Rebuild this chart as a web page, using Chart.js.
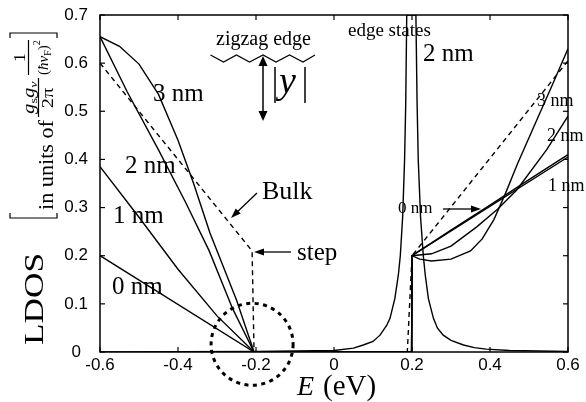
<!DOCTYPE html>
<html>
<head>
<meta charset="utf-8">
<script src="https://cdn.jsdelivr.net/npm/chart.js@4.4.1/dist/chart.umd.min.js"></script>
<style>
  html, body { margin: 0; padding: 0; background: #fff; }
  canvas { display: block; }
</style>
</head>
<body>
<canvas id="ldosChart" width="586" height="402"></canvas>
<script>
'use strict';

// ── Data ──────────────────────────────────────────────────────────────────────
const xTickLabels = ['-0.6', '-0.4', '-0.2', '0', '0.2', '0.4', '0.6'];
const yTickLabels = ['0', '0.1', '0.2', '0.3', '0.4', '0.5', '0.6', '0.7'];

// bulk (dashed)
const energyBulk = [-0.6, -0.21, -0.205, 0.188, 0.2, 0.6];
const ldosBulk   = [0.6, 0.21, 0, 0, 0.2, 0.605];

// 0 nm from the edge
const energy0nm = [-0.6, -0.205, 0.199, 0.2, 0.6];
const ldos0nm   = [0.2, 0, 0, 0.2, 0.405];

// 1 nm
const energy1nm = [-0.6, -0.5, -0.4, -0.3, -0.205, 0.199, 0.2, 0.3, 0.4, 0.5, 0.6];
const ldos1nm   = [0.385, 0.28, 0.172, 0.075, 0, 0, 0.2, 0.253, 0.305, 0.358, 0.41];

// 2 nm
const energy2nm = [-0.6, -0.53, -0.45, -0.38, -0.32, -0.26, -0.205, 0.199, 0.2, 0.25, 0.3, 0.366, 0.42, 0.468, 0.545, 0.6];
const ldos2nm   = [0.655, 0.54, 0.42, 0.31, 0.21, 0.09, 0, 0, 0.2, 0.204, 0.22, 0.26, 0.297, 0.336, 0.42, 0.49];

// 3 nm
const energy3nm = [-0.6, -0.55, -0.5, -0.45, -0.4, -0.36, -0.318, -0.25, -0.205, 0.199, 0.2, 0.22, 0.25, 0.3, 0.35, 0.38, 0.41, 0.44, 0.47, 0.52, 0.56, 0.6];
const ldos3nm   = [0.655, 0.635, 0.598, 0.535, 0.44, 0.35, 0.247, 0.108, 0, 0, 0.2, 0.193, 0.189, 0.193, 0.21, 0.235, 0.275, 0.33, 0.39, 0.482, 0.555, 0.63];

// edge-state peak (runs off the top of the frame)
const energyEdge = [-0.6, -0.2, 0, 0.05, 0.075, 0.1, 0.118, 0.135, 0.1436, 0.156, 0.165, 0.17, 0.176, 0.181, 0.184, 0.1865,
                    0.21, 0.213, 0.216, 0.222, 0.229, 0.234, 0.242, 0.255, 0.265, 0.28, 0.3, 0.332, 0.36, 0.39, 0.45, 0.6];
const ldosEdge   = [0, 0.001, 0.003, 0.008, 0.0145, 0.022, 0.035, 0.055, 0.07, 0.111, 0.16, 0.2, 0.28, 0.4, 0.52, 0.7,
                    0.7, 0.52, 0.4, 0.28, 0.2, 0.16, 0.111, 0.07, 0.05, 0.035, 0.024, 0.0145, 0.009, 0.006, 0.003, 0.001];

// ── Helpers ───────────────────────────────────────────────────────────────────
const SERIF = "'Liberation Serif', 'Times New Roman', serif";
const SANS  = "'Liberation Sans', Arial, sans-serif";

const zip = (xs, ys) => xs.map((x, i) => ({ x, y: ys[i] }));

function curve(xs, ys, dashed) {
  return {
    data: zip(xs, ys),
    borderColor: '#000',
    borderWidth: 1.4,
    borderDash: dashed ? [5, 4] : [],
    pointRadius: 0,
    tension: 0,
    fill: false
  };
}

// vertical (rotated) text: bx = baseline x on screen, py = anchor y
function vText(ctx, text, bx, py, font, align, sx) {
  ctx.save();
  ctx.translate(bx, py);
  ctx.rotate(-Math.PI / 2);
  ctx.scale(sx || 1, 1);
  ctx.font = font;
  ctx.textAlign = align || 'center';
  ctx.textBaseline = 'alphabetic';
  ctx.fillText(text, 0, 0);
  ctx.restore();
}

// rotated text stretched to run from pyBottom up to pyTop
function vFit(ctx, text, bx, pyBottom, pyTop, font) {
  ctx.font = font;
  const w = ctx.measureText(text).width;
  vText(ctx, text, bx, pyBottom, font, 'left', (pyBottom - pyTop) / w);
}

// run of rotated pieces going upward from pyStart
function vRun(ctx, parts, pyStart, sx) {
  let py = pyStart;
  parts.forEach(p => {
    ctx.font = p.font;
    const w = ctx.measureText(p.t).width * (sx || 1);
    vText(ctx, p.t, p.bx, py, p.font, 'left', sx);
    py -= w;
  });
}

function text(ctx, str, x, y, font) {
  ctx.font = font;
  ctx.textAlign = 'left';
  ctx.textBaseline = 'alphabetic';
  ctx.fillText(str, x, y);
}

function line(ctx, pts) {
  ctx.beginPath();
  ctx.moveTo(pts[0][0], pts[0][1]);
  for (let i = 1; i < pts.length; i++) ctx.lineTo(pts[i][0], pts[i][1]);
  ctx.stroke();
}

function arrow(ctx, x1, y1, x2, y2, len, hw) {
  const ang = Math.atan2(y2 - y1, x2 - x1);
  const c = Math.cos(ang), s = Math.sin(ang);
  line(ctx, [[x1, y1], [x2 - c * len * 0.6, y2 - s * len * 0.6]]);
  ctx.beginPath();
  ctx.moveTo(x2, y2);
  ctx.lineTo(x2 - len * c + hw * s, y2 - len * s - hw * c);
  ctx.lineTo(x2 - len * c - hw * s, y2 - len * s + hw * c);
  ctx.closePath();
  ctx.fill();
}

// ── Annotation / frame plugin ────────────────────────────────────────────────
const figurePlugin = {
  id: 'figureDecor',
  afterDraw(chart) {
    const { ctx, chartArea: a, scales: { x, y } } = chart;
    ctx.save();
    ctx.fillStyle = '#000';
    ctx.strokeStyle = '#000';

    // frame + inward ticks
    ctx.lineWidth = 1.5;
    ctx.strokeRect(a.left, a.top, a.right - a.left, a.bottom - a.top);
    ctx.lineWidth = 1.2;
    xTickLabels.forEach(l => {
      const px = x.getPixelForValue(parseFloat(l));
      line(ctx, [[px, a.bottom], [px, a.bottom - 5]]);
      line(ctx, [[px, a.top], [px, a.top + 5]]);
    });
    yTickLabels.forEach(l => {
      const py = y.getPixelForValue(parseFloat(l));
      line(ctx, [[a.left, py], [a.left + 5, py]]);
      line(ctx, [[a.right, py], [a.right - 5, py]]);
    });

    // dotted circle round the band edge
    ctx.save();
    ctx.lineWidth = 3;
    ctx.setLineDash([4, 4.5]);
    ctx.beginPath();
    ctx.arc(x.getPixelForValue(-0.21), y.getPixelForValue(0.016), 41, 0, Math.PI * 2);
    ctx.stroke();
    ctx.restore();

    // zigzag edge sketch
    ctx.lineWidth = 1.2;
    text(ctx, 'zigzag edge', 216, 45, '20px ' + SERIF);
    line(ctx, [[210.5, 55], [223.5, 62], [236.5, 55], [249.5, 62], [263, 55],
               [276, 62], [289.5, 55], [303, 62], [315, 55]]);
    ctx.lineWidth = 1.5;
    arrow(ctx, 263, 88, 263, 56, 10, 4.5);
    arrow(ctx, 263, 88, 263, 121, 10, 4.5);
    line(ctx, [[275, 67], [275, 103]]);
    line(ctx, [[305, 67], [305, 103]]);
    text(ctx, 'y', 279, 93, 'italic 38px ' + SERIF);

    // curve labels
    const lab = '25px ' + SERIF;
    text(ctx, 'edge states', 348, 36, '19px ' + SERIF);
    text(ctx, '2 nm', 423, 61, lab);
    text(ctx, '3 nm', 153, 101, lab);
    text(ctx, '2 nm', 125, 173, lab);
    text(ctx, '1 nm', 113, 223, lab);
    text(ctx, '0 nm', 112, 294, lab);
    text(ctx, 'Bulk', 262, 199, '26px ' + SERIF);
    text(ctx, 'step', 297, 260, lab);
    const small = '18px ' + SERIF;
    text(ctx, '3 nm', 537, 106, small);
    text(ctx, '2 nm', 547, 141, small);
    text(ctx, '1 nm', 548, 191, small);
    text(ctx, '0 nm', 398, 213, '17px ' + SERIF);

    ctx.lineWidth = 1.3;
    arrow(ctx, 257, 193, 231, 218, 10, 3.5);
    arrow(ctx, 291, 252, 254, 252, 10, 3.5);
    arrow(ctx, 443, 209, 481, 209, 10, 3.5);

    // x axis title
    text(ctx, 'E', 297, 395, 'italic 28px ' + SERIF);
    text(ctx, '(eV)', 323, 395, '29px ' + SERIF);

    // y axis title (rotated)
    vFit(ctx, 'LDOS', 43, 345, 253, '28px ' + SERIF);
    ctx.lineWidth = 1.2;
    line(ctx, [[10, 213], [10, 218], [57, 218], [57, 213]]);
    line(ctx, [[10, 38], [10, 33], [57, 33], [57, 38]]);
    vFit(ctx, 'in units of', 53, 210, 120, '20px ' + SERIF);
    // g_s g_v / 2π
    vRun(ctx, [
      { t: 'g', font: 'italic 16px ' + SERIF, bx: 34 },
      { t: 's', font: '11px ' + SERIF, bx: 37 },
      { t: 'g', font: 'italic 16px ' + SERIF, bx: 34 },
      { t: 'v', font: 'italic 11px ' + SERIF, bx: 37 }
    ], 114, 1.3);
    line(ctx, [[38.5, 117], [38.5, 78]]);
    vText(ctx, '2π', 53, 98, '17px ' + SERIF, 'center', 1.2);
    // 1 / (ħ v_F)^2
    vText(ctx, '1', 25, 57.5, '16px ' + SERIF, 'center', 1.1);
    line(ctx, [[28.5, 75], [28.5, 40]]);
    vRun(ctx, [
      { t: '(', font: '15px ' + SERIF, bx: 48 },
      { t: 'ħ', font: 'italic 15px ' + SERIF, bx: 48 },
      { t: 'v', font: 'italic 15px ' + SERIF, bx: 48 },
      { t: 'F', font: '10px ' + SERIF, bx: 51 },
      { t: ')', font: '15px ' + SERIF, bx: 48 },
      { t: '2', font: '10px ' + SERIF, bx: 40 }
    ], 75, 1.0);

    ctx.restore();
  }
};

// ── Chart ─────────────────────────────────────────────────────────────────────
const X_MIN = -0.6, X_STEP = 0.2, Y_STEP = 0.1;

new Chart(document.getElementById('ldosChart').getContext('2d'), {
  type: 'line',
  data: {
    datasets: [
      curve(energyBulk, ldosBulk, true),
      curve(energy0nm, ldos0nm),
      curve(energy1nm, ldos1nm),
      curve(energy2nm, ldos2nm),
      curve(energy3nm, ldos3nm),
      curve(energyEdge, ldosEdge)
    ]
  },
  options: {
    responsive: false,
    animation: false,
    layout: { padding: { left: 0, right: 18, top: 15, bottom: 0 } },
    plugins: { legend: { display: false }, tooltip: { enabled: false } },
    scales: {
      x: {
        type: 'linear',
        min: -0.6,
        max: 0.6,
        afterFit: s => { s.height = 50; },
        grid: { display: false },
        border: { display: false },
        ticks: {
          stepSize: X_STEP,
          padding: -5,
          color: '#000',
          maxRotation: 0,
          autoSkip: false,
          font: { family: SANS, size: 17 },
          callback: v => xTickLabels[Math.round((v - X_MIN) / X_STEP)] ?? ''
        }
      },
      y: {
        type: 'linear',
        min: 0,
        max: 0.7,
        afterFit: s => { s.width = 100; },
        grid: { display: false },
        border: { display: false },
        ticks: {
          stepSize: Y_STEP,
          padding: 4,
          crossAlign: 'center',
          color: '#000',
          font: { family: SANS, size: 17 },
          callback: v => yTickLabels[Math.round(v / Y_STEP)] ?? ''
        }
      }
    }
  },
  plugins: [figurePlugin]
});
</script>
</body>
</html>
